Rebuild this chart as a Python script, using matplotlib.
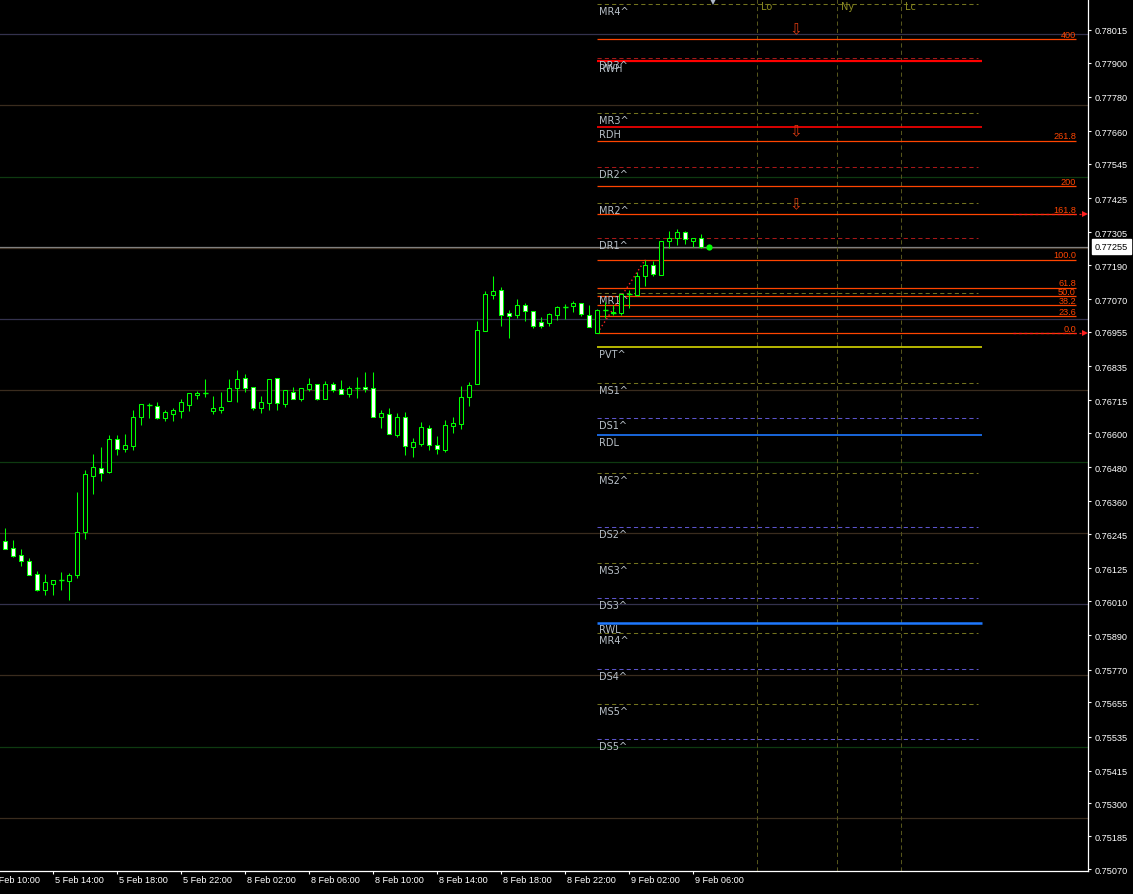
import matplotlib
matplotlib.use("Agg")
import matplotlib.pyplot as plt
from matplotlib.patches import Rectangle
import numpy as np

# ---------------- data (M30 candles, 5 Feb 11:00 .. 9 Feb 06:30) ----------------
opens = [0.76220, 0.76196, 0.76172, 0.76150, 0.76104, 0.76050, 0.76071, 0.76083, 0.76082, 0.76103,
         0.76254, 0.76451, 0.76478, 0.76465, 0.76579, 0.76545, 0.76556, 0.76658, 0.76699, 0.76694,
         0.76654, 0.76668, 0.76678, 0.76700, 0.76735, 0.76740, 0.76679, 0.76682, 0.76714, 0.76759,
         0.76792, 0.76761, 0.76689, 0.76707, 0.76792, 0.76703, 0.76743, 0.76721, 0.76756, 0.76771,
         0.76721, 0.76772, 0.76754, 0.76738, 0.76757, 0.76762, 0.76759, 0.76656, 0.76666, 0.76595,
         0.76656, 0.76550, 0.76563, 0.76617, 0.76557, 0.76542, 0.76624, 0.76633, 0.76726, 0.76771,
         0.76960, 0.77086, 0.77101, 0.77021, 0.77014, 0.77049, 0.77028, 0.76989, 0.76988, 0.77016,
         0.77043, 0.77045, 0.77056, 0.77014, 0.76952, 0.77033, 0.77022, 0.77022, 0.77087, 0.77086,
         0.77151, 0.77189, 0.77156, 0.77273, 0.77286, 0.77306, 0.77273, 0.77284]
highs = [0.76267, 0.76225, 0.76193, 0.76162, 0.76116, 0.76106, 0.76084, 0.76113, 0.76109, 0.76393,
         0.76470, 0.76527, 0.76551, 0.76593, 0.76593, 0.76597, 0.76681, 0.76702, 0.76707, 0.76710,
         0.76681, 0.76688, 0.76720, 0.76742, 0.76747, 0.76790, 0.76730, 0.76744, 0.76790, 0.76822,
         0.76808, 0.76762, 0.76730, 0.76789, 0.76794, 0.76750, 0.76762, 0.76759, 0.76794, 0.76774,
         0.76783, 0.76778, 0.76786, 0.76766, 0.76797, 0.76815, 0.76815, 0.76681, 0.76688, 0.76671,
         0.76673, 0.76583, 0.76639, 0.76629, 0.76590, 0.76646, 0.76657, 0.76765, 0.76779, 0.76994,
         0.77099, 0.77152, 0.77113, 0.77032, 0.77071, 0.77056, 0.77029, 0.77007, 0.77022, 0.77046,
         0.77053, 0.77064, 0.77057, 0.77050, 0.77036, 0.77061, 0.77050, 0.77089, 0.77102, 0.77165,
         0.77209, 0.77204, 0.77274, 0.77310, 0.77317, 0.77311, 0.77284, 0.77299]
lows = [0.76193, 0.76166, 0.76135, 0.76103, 0.76047, 0.76032, 0.76032, 0.76050, 0.76015, 0.76093,
        0.76228, 0.76386, 0.76433, 0.76461, 0.76524, 0.76535, 0.76541, 0.76629, 0.76653, 0.76651,
        0.76644, 0.76643, 0.76653, 0.76679, 0.76721, 0.76728, 0.76667, 0.76671, 0.76714, 0.76710,
        0.76745, 0.76682, 0.76671, 0.76682, 0.76682, 0.76692, 0.76719, 0.76713, 0.76749, 0.76717,
        0.76721, 0.76743, 0.76738, 0.76728, 0.76723, 0.76743, 0.76656, 0.76619, 0.76596, 0.76586,
        0.76524, 0.76517, 0.76556, 0.76542, 0.76528, 0.76535, 0.76602, 0.76616, 0.76696, 0.76771,
        0.76960, 0.77071, 0.76977, 0.76934, 0.77004, 0.76995, 0.76969, 0.76969, 0.76976, 0.76998,
        0.77001, 0.77026, 0.77010, 0.76972, 0.76951, 0.77003, 0.77015, 0.77016, 0.77040, 0.77081,
        0.77118, 0.77152, 0.77156, 0.77249, 0.77261, 0.77265, 0.77254, 0.77251]
closes = [0.76194, 0.76170, 0.76151, 0.76103, 0.76050, 0.76077, 0.76083, 0.76083, 0.76102, 0.76252,
          0.76455, 0.76480, 0.76461, 0.76579, 0.76545, 0.76558, 0.76656, 0.76702, 0.76699, 0.76654,
          0.76673, 0.76680, 0.76709, 0.76740, 0.76742, 0.76740, 0.76687, 0.76691, 0.76757, 0.76789,
          0.76759, 0.76689, 0.76708, 0.76789, 0.76705, 0.76750, 0.76719, 0.76757, 0.76772, 0.76721,
          0.76771, 0.76752, 0.76738, 0.76757, 0.76757, 0.76754, 0.76656, 0.76670, 0.76596, 0.76657,
          0.76554, 0.76568, 0.76620, 0.76559, 0.76543, 0.76629, 0.76636, 0.76727, 0.76769, 0.76961,
          0.77087, 0.77099, 0.77014, 0.77010, 0.77049, 0.77030, 0.76977, 0.76977, 0.77017, 0.77042,
          0.77043, 0.77057, 0.77017, 0.76972, 0.77031, 0.77033, 0.77024, 0.77087, 0.77087, 0.77151,
          0.77189, 0.77160, 0.77273, 0.77284, 0.77306, 0.77280, 0.77284, 0.77255]

time_labels = ["5 Feb 10:00", "5 Feb 14:00", "5 Feb 18:00", "5 Feb 22:00", "8 Feb 02:00",
               "8 Feb 06:00", "8 Feb 10:00", "8 Feb 14:00", "8 Feb 18:00", "8 Feb 22:00",
               "9 Feb 02:00", "9 Feb 06:00"]
price_ticks = [0.78015, 0.77900, 0.77780, 0.77660, 0.77545, 0.77425, 0.77305, 0.77190, 0.77070,
               0.76955, 0.76835, 0.76715, 0.76600, 0.76480, 0.76360, 0.76245, 0.76125, 0.76010,
               0.75890, 0.75770, 0.75655, 0.75535, 0.75415, 0.75300, 0.75185, 0.75070]
current_price = 0.77255

quarter_levels = [0.7800, 0.7775, 0.7750, 0.7725, 0.7700, 0.7675, 0.7650, 0.7625,
                  0.7600, 0.7575, 0.7550, 0.7525]

level_names = ["MR4^", "DR3^", "RWH", "MR3^", "RDH", "DR2^", "MR2^", "DR1^", "MR1^", "PVT^",
               "MS1^", "DS1^", "RDL", "MS2^", "DS2^", "MS3^", "DS3^", "RWL", "MR4^", "DS4^",
               "MS5^", "DS5^"]
level_values = [0.78105, 0.77916, 0.77905, 0.77723, 0.77674, 0.77533, 0.77407, 0.77284, 0.77091,
                0.76901, 0.76775, 0.76652, 0.76592, 0.76459, 0.76269, 0.76143, 0.76020, 0.75935,
                0.75897, 0.75771, 0.75648, 0.75525]

fib_low = 0.76951
fib_high = 0.77209
fib_ratios = [0.0, 23.6, 38.2, 50.0, 61.8, 100.0, 161.8, 200.0, 261.8, 400.0]
fib_labels = ["0.0", "23.6", "38.2", "50.0", "61.8", "100.0", "161.8", "200", "261.8", "400"]
fib_arrow_ratios = [400.0, 261.8, 161.8]
fib_alert_ratios = [161.8, 0.0]

session_names = ["Lo", "Ny", "Lc"]

# ---------------- layout ----------------
W, H = 1133, 895
PLOT_R, PLOT_B = 1088, 872
fig = plt.figure(figsize=(W / 100, H / 100), dpi=100, facecolor="black")
ax = fig.add_axes([0, (H - PLOT_B) / H, PLOT_R / W, PLOT_B / H])
ax.set_facecolor("black")

BAR_PX = 8.0
X0_PX = 5.3
def px2bar(px):
    return (px - X0_PX) / BAR_PX

ax.set_xlim(px2bar(0), px2bar(PLOT_R))
ax.set_ylim(0.750630, 0.781238)

LIME = "#00FF00"
LABEL_C = "#B8C0C8"
OLIVE = "#72721E"
DR_C = "#A81818"
DS_C = "#5C54CC"
FIB_C = "#FF4500"

n = len(opens)
day_start = n - 14          # first bar of 9 Feb
lvl_end_dash = px2bar(978)
lvl_end_solid = px2bar(982)
fib_end = px2bar(1076)

# quarter levels
for q in quarter_levels:
    frac = round((q * 10000) % 100)
    if frac == 0:
        c = "#34324E"
    elif frac == 50:
        c = "#0E3A10"
    else:
        c = "#3A2C1E"
    ax.axhline(q, color=c, lw=0.9, zorder=1)

# current price line
ax.axhline(current_price, color="#808080", lw=0.9, zorder=2)

# session lines
for i, name in enumerate(session_names):
    b = day_start + [20, 30, 38][i]
    ax.axvline(b, color="#55551C", lw=0.75, ls=(0, (4, 3)), zorder=2)
    ax.annotate(name, xy=(b, 1), xycoords=("data", "axes fraction"), xytext=(2.5, -1.5),
                textcoords="offset points", ha="left", va="top", color="#8C8C22",
                fontsize=7, family="DejaVu Sans", zorder=4)

# pivot levels
for name, v in zip(level_names, level_values):
    if name in ("RWH", "RDH"):
        ax.hlines(v, day_start, lvl_end_solid, color="#FF0000",
                  lw=1.6 if name == "RWH" else 1.2, zorder=3)
    elif name in ("RWL", "RDL"):
        ax.hlines(v, day_start, lvl_end_solid, color="#1E78FF",
                  lw=1.8 if name == "RWL" else 1.2, zorder=3)
    elif name.startswith("PVT"):
        ax.hlines(v, day_start, lvl_end_solid, color="#E8E800", lw=1.1, zorder=3)
    else:
        if name.startswith("DR"):
            c = DR_C
        elif name.startswith("DS"):
            c = DS_C
        else:
            c = OLIVE
        ax.hlines(v, day_start, lvl_end_dash, color=c, lw=0.75, ls=(0, (4, 3)), zorder=3)
    ax.annotate(name, xy=(day_start, v), xytext=(1.5, -7.0), textcoords="offset points",
                ha="left", va="baseline", color=LABEL_C, fontsize=7, family="DejaVu Sans",
                zorder=4)

# fibonacci levels
rng = fib_high - fib_low
for r, lab in zip(fib_ratios, fib_labels):
    v = fib_low + rng * r / 100.0
    ax.hlines(v, day_start, fib_end, color=FIB_C, lw=0.9, zorder=3)
    ax.annotate(lab, xy=(fib_end, v), xytext=(0, 1.6), textcoords="offset points",
                ha="right", va="baseline", color=FIB_C, fontsize=6.6,
                family="Liberation Sans", zorder=4)
for r in fib_alert_ratios:
    v = fib_low + rng * r / 100.0
    ax.hlines(v, px2bar(1013), px2bar(1081), color="#FF2020", lw=0.9,
              ls=(0, (2.2, 2.2)), zorder=4)
    ax.plot(px2bar(1085), v, marker=">", color="#FF2020", ms=4, mew=0, zorder=4)
for r in fib_arrow_ratios:
    v = fib_low + rng * r / 100.0
    ax.annotate("\u21e9", xy=(px2bar(796), v), xytext=(0, 2.0), textcoords="offset points",
                ha="center", va="bottom", color="#D83A10", fontsize=11,
                family="DejaVu Sans", zorder=4)
# fib trend line (low bar -> high bar)
i_lo = int(np.argmin(np.array(lows[day_start:day_start + 8]))) + day_start
i_hi = int(np.argmax(np.array(highs[day_start:day_start + 8]))) + day_start
ax.plot([i_lo, i_hi], [fib_low, fib_high], color="#FF2020", lw=1.0, ls=(0, (1, 2)), zorder=4)

# candles
CLW = 0.75
x = np.arange(n)
ax.vlines(x, lows, highs, color=LIME, lw=CLW, zorder=5)
bw = 0.5
for i in range(n):
    o, c = opens[i], closes[i]
    bot = min(o, c)
    h = abs(c - o)
    face = "white" if c < o else "black"
    ax.add_patch(Rectangle((i - bw / 2, bot), bw, h, facecolor=face, edgecolor=LIME,
                           lw=CLW, zorder=6, snap=True))
    if h < 0.00003:
        ax.hlines((o + c) / 2, i - bw / 2 - 0.05, i + bw / 2 + 0.05, color=LIME, lw=1.0,
                  zorder=7)

# last price dot and shift marker
ax.plot(n, current_price, "o", color=LIME, ms=4.5, mew=0, zorder=7)
ax.plot(px2bar(713), 0.781238, marker="v", color="#AEB8C8", ms=8, mew=0, zorder=9, clip_on=True)

# axes styling
for s in ("top", "left"):
    ax.spines[s].set_visible(False)
for s in ("right", "bottom"):
    ax.spines[s].set_color("white")
    ax.spines[s].set_linewidth(0.9)

ax.yaxis.tick_right()
ax.set_yticks(price_ticks)
ax.set_yticklabels([f"{v:.5f}" for v in price_ticks])
ax.tick_params(axis="y", colors="white", length=2.5, width=0.8, pad=2.5, labelsize=6.6)
for lbl in ax.get_yticklabels():
    lbl.set_fontfamily("Liberation Sans")

tick_bars = [day_start - 76 + 8 * i for i in range(len(time_labels))]
vis = [b for b in tick_bars if ax.get_xlim()[0] <= b <= ax.get_xlim()[1]]
ax.set_xticks(vis)
ax.set_xticklabels([""] * len(vis))
ax.tick_params(axis="x", colors="white", length=2.5, width=0.8)
for b, lab in zip(tick_bars, time_labels):
    ax.annotate(lab, xy=(b, 0), xycoords=("data", "axes fraction"), xytext=(1.2, -3.2),
                textcoords="offset points", ha="left", va="top", color="white",
                fontsize=6.6, family="Liberation Sans", annotation_clip=False)

# current price box
ax.annotate(f"{current_price:.5f}", xy=(1, current_price), xycoords=("axes fraction", "data"),
            xytext=(5, 0), textcoords="offset points", ha="left", va="center", color="black",
            fontsize=6.6, family="Liberation Sans", annotation_clip=False, zorder=10,
            bbox=dict(boxstyle="square,pad=0.3", fc="white", ec="white"))

fig.savefig("out.png", dpi=100, facecolor="black")
